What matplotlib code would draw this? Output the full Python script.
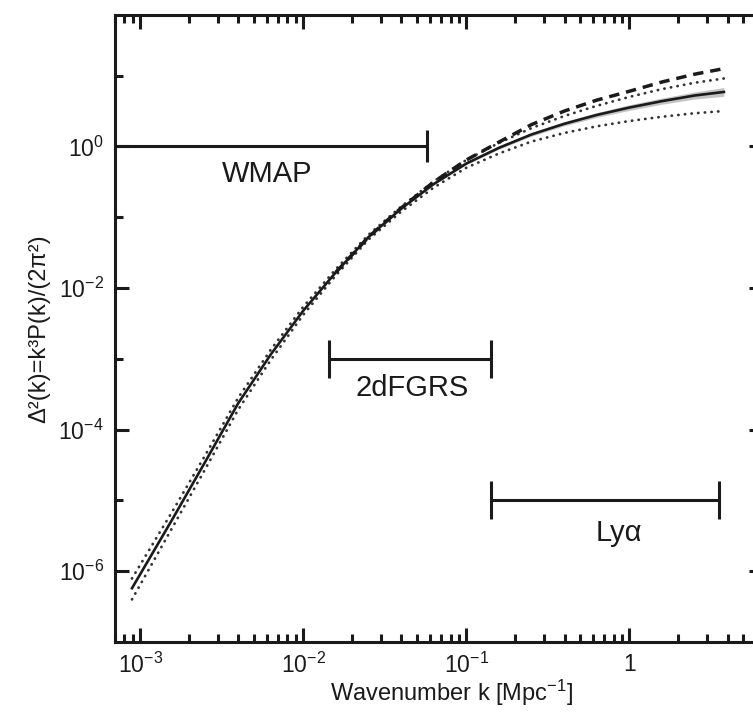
import matplotlib
matplotlib.use("Agg")
import matplotlib.pyplot as plt

plt.rcParams['font.family'] = ['Liberation Sans', 'DejaVu Sans']
plt.rcParams['mathtext.fontset'] = 'custom'
plt.rcParams['mathtext.rm'] = 'Liberation Sans'
plt.rcParams['mathtext.it'] = 'Liberation Sans:italic'
plt.rcParams['mathtext.default'] = 'regular'

# wavenumber grid [1/Mpc]
k = [8.9e-4, 1.58e-3, 2.51e-3, 3.98e-3, 6.31e-3, 0.01, 0.0158, 0.0251,
     0.0398, 0.0631, 0.1, 0.158, 0.251, 0.398, 0.631, 1.0, 1.58, 2.51, 3.8]

# best fit model (solid line)
delta_model = [5.75e-7, 5.5e-6, 3.55e-5, 2.34e-4, 1.15e-3, 4.8e-3, 0.0166,
               0.0525, 0.132, 0.295, 0.575, 0.955, 1.48, 2.09, 2.79, 3.55,
               4.37, 5.25, 5.9]

# upper / lower dotted envelopes
delta_upper = [7.9e-7, 7.1e-6, 4.4e-5, 2.8e-4, 1.34e-3, 5.45e-3, 0.0184,
               0.0565, 0.1415, 0.323, 0.645, 1.12, 1.82, 2.69, 3.76, 5.02,
               6.46, 7.95, 9.14]
delta_lower = [4.0e-7, 4.2e-6, 2.8e-5, 1.9e-4, 9.6e-4, 4.2e-3, 0.0150,
               0.0485, 0.120, 0.263, 0.501, 0.795, 1.175, 1.55, 1.93, 2.29,
               2.63, 2.95, 3.17]

# dashed curve (only drawn where it leaves the solid line)
k_dash = [0.0158, 0.0251, 0.0398, 0.0631, 0.1, 0.158, 0.251, 0.398, 0.631,
          1.0, 1.58, 2.51, 3.8]
delta_dash = [0.0166, 0.0525, 0.135, 0.316, 0.645, 1.15, 2.04, 3.16, 4.52,
              6.03, 8.14, 10.5, 12.6]

# grey band round the model at high k
k_band = [0.0631, 0.1, 0.158, 0.251, 0.398, 0.631, 1.0, 1.58, 2.51, 3.8]
band_lo = [0.288, 0.555, 0.912, 1.40, 1.96, 2.58, 3.24, 3.95, 4.68, 5.12]
band_hi = [0.302, 0.595, 1.0, 1.56, 2.24, 3.02, 3.89, 4.83, 5.89, 6.8]

# k ranges probed by each data set and the level their bar is drawn at
surveys = ['WMAP', '2dFGRS', 'Lyα']
k_from = [7e-4, 0.0143, 0.141]
k_to = [0.0574, 0.141, 3.52]
bar_level = [1.0, 1e-3, 1e-5]

fig = plt.figure(figsize=(7.53, 7.12), dpi=100)
ax = fig.add_axes([0.1527, 0.0983, 0.8606, 0.8806])

ax.fill_between(k_band, band_lo, band_hi, color='#c4c4c4', lw=0)
ax.plot(k, delta_upper, color='#333333', lw=2.0, ls=(0, (0.1, 2.3)),
        dash_capstyle='round')
ax.plot(k, delta_lower, color='#333333', lw=2.0, ls=(0, (0.1, 2.3)),
        dash_capstyle='round')
ax.plot(k, delta_model, color='#1a1a1a', lw=1.9)
ax.plot(k_dash, delta_dash, color='#1a1a1a', lw=2.5, ls=(0, (3.0, 2.0)))

# horizontal range bars
for i in range(len(surveys)):
    ax.plot([k_from[i], k_to[i]], [bar_level[i], bar_level[i]],
            color='#1a1a1a', lw=2.2, solid_capstyle='butt')
    ends = [k_to[i]] if i == 0 else [k_from[i], k_to[i]]
    ax.plot(ends, [bar_level[i]] * len(ends), ls='none', marker='|',
            ms=23 if i == 0 else 28, mew=2.2, color='#1a1a1a')

ax.text(6.0e-3, 0.32, surveys[0], fontsize=21, ha='center', va='baseline',
        color='#1a1a1a')
ax.text(0.0465, 3.0e-4, surveys[1], fontsize=21, ha='center', va='baseline',
        color='#1a1a1a')
ax.text(0.86, 2.67e-6, surveys[2], fontsize=21, ha='center', va='baseline',
        color='#1a1a1a')

ax.set_xscale('log')
ax.set_yscale('log')
ax.set_xlim(7e-4, 6.6)
ax.set_ylim(1e-7, 72)

ax.set_xticks([1e-3, 1e-2, 1e-1, 1],
              labels=['$10^{-3}$', '$10^{-2}$', '$10^{-1}$', '1'])
ax.set_yticks([1e-6, 1e-4, 1e-2, 1],
              labels=['$10^{-6}$', '$10^{-4}$', '$10^{-2}$', '$10^{0}$'])
ax.set_yticks([1e-5, 1e-3, 1e-1, 10], minor=True)
ax.yaxis.set_minor_formatter(plt.NullFormatter())
ax.xaxis.set_minor_formatter(plt.NullFormatter())

ax.tick_params(which='both', direction='in', top=True, right=True,
               width=2.2, colors='#1a1a1a', labelsize=16.5)
ax.tick_params(which='major', length=10, pad=8)
ax.tick_params(which='minor', length=6)
for s in ax.spines.values():
    s.set_linewidth(2.2)
    s.set_color('#1a1a1a')

ax.set_xlabel('Wavenumber k [Mpc$^{-1}$]', fontsize=17, color='#1a1a1a')
ax.xaxis.set_label_coords(0.52, -0.057)
ax.set_ylabel('Δ²(k)=k³P(k)/(2π²)', fontsize=17, color='#1a1a1a',
              labelpad=6)

fig.savefig('out.png', dpi=100)
